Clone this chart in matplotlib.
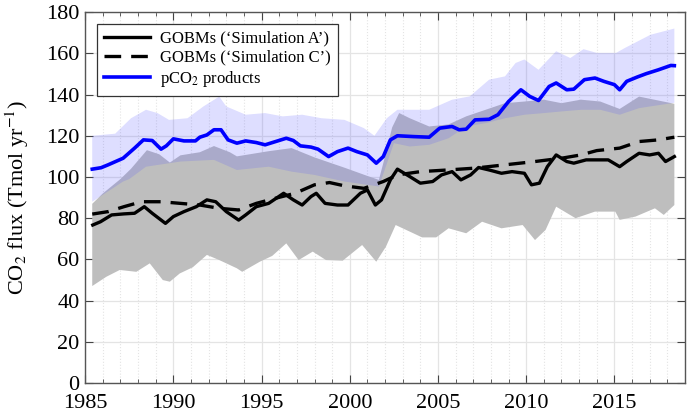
import numpy as np
import matplotlib
matplotlib.use("Agg")
import matplotlib.pyplot as plt
from matplotlib.ticker import MultipleLocator

plt.rcParams['font.family'] = ['Liberation Serif', 'DejaVu Serif']
plt.rcParams['mathtext.fontset'] = 'stix'

# pCO2 products (mean line)
pco2_years = [1985.4, 1985.9, 1986.3, 1987.15, 1987.8, 1988.3, 1988.8, 1989.3, 1989.6, 1990.0,
              1990.6, 1991.25, 1991.5, 1991.9, 1992.3, 1992.7, 1993.1, 1993.6, 1994.1, 1994.7,
              1995.2, 1995.8, 1996.4, 1996.8, 1997.2, 1997.8, 1998.2, 1998.8, 1999.3, 1999.9,
              2000.4, 2001.0, 2001.5, 2001.9, 2002.3, 2002.7, 2003.6, 2004.5, 2005.1, 2005.8,
              2006.2, 2006.6, 2007.1, 2007.9, 2008.4, 2009.0, 2009.7, 2010.2, 2010.7, 2011.3,
              2011.7, 2012.3, 2012.7, 2013.3, 2013.9, 2014.4, 2015.0, 2015.3, 2015.7, 2016.3,
              2016.8, 2017.5, 2018.2, 2018.4]
pco2_mean = [103.8, 104.5, 105.9, 109.1, 114.0, 118.0, 117.7, 113.5, 115.1, 118.5,
             117.5, 117.5, 119.3, 120.4, 122.9, 122.9, 118.0, 116.4, 117.5, 116.7,
             115.6, 117.2, 118.8, 117.7, 115.1, 114.5, 113.5, 109.9, 112.3, 114.0,
             112.3, 110.7, 106.7, 109.9, 118.0, 120.0, 119.6, 119.3, 123.7, 124.5,
             122.9, 123.2, 127.7, 128.0, 130.2, 136.6, 142.3, 139.1, 137.1, 143.9,
             145.6, 142.3, 142.6, 147.2, 148.0, 146.4, 144.8, 142.3, 146.4, 148.5,
             150.1, 152.0, 154.1, 154.0]

# pCO2 products spread
pco2_hi_years = [1985.4, 1986.7, 1987.6, 1988.45, 1989.1, 1989.75, 1990.8, 1991.7, 1992.6, 1993.0,
                 1994.1, 1995.2, 1996.2, 1997.3, 1998.4, 1999.7, 2000.8, 2001.4, 2002.1, 2002.7,
                 2004.5, 2005.8, 2006.8, 2007.9, 2008.8, 2009.4, 2009.9, 2010.7, 2011.7, 2012.5,
                 2013.25, 2014.0, 2015.1, 2015.6, 2017.05, 2018.4]
pco2_hi = [120.0, 121.0, 128.5, 132.6, 131.0, 127.7, 128.5, 134.2, 139.0, 134.2,
           130.2, 131.0, 129.4, 130.2, 128.5, 127.7, 123.7, 120.0, 128.5, 132.6,
           132.6, 137.5, 139.1, 147.2, 148.8, 155.3, 157.0, 152.0, 161.0, 157.7,
           162.0, 160.2, 160.2, 162.6, 169.0, 172.0]
pco2_lo_years = [1985.4, 1987.15, 1987.5, 1988.45, 1990.4, 1992.3, 1993.6, 1995.4, 1996.7, 1998.0,
                 1999.7, 2001.0, 2001.65, 2002.0, 2002.5, 2003.4, 2004.5, 2005.6, 2006.6, 2007.7,
                 2008.8, 2009.9, 2011.0, 2012.0, 2013.1, 2014.2, 2015.3, 2016.4, 2018.4]
pco2_lo = [88.0, 97.8, 99.0, 105.0, 107.5, 108.3, 103.4, 105.0, 102.6, 101.0,
           97.8, 96.2, 95.4, 104.0, 116.4, 114.8, 115.6, 118.8, 124.5, 126.1,
           128.5, 130.2, 131.0, 131.8, 132.6, 132.6, 130.2, 133.4, 136.0]

# GOBM spread
gobm_hi_years = [1985.4, 1986.0, 1987.0, 1987.6, 1988.5, 1989.2, 1989.8, 1990.4, 1991.5, 1992.3,
                 1993.2, 1993.6, 1995.4, 1996.7, 1998.0, 1999.7, 2001.0, 2001.65, 2002.0, 2002.4,
                 2002.8, 2003.4, 2004.5, 2005.6, 2006.6, 2007.7, 2008.8, 2009.9, 2011.0, 2012.0,
                 2013.1, 2014.2, 2015.3, 2016.4, 2018.4]
gobm_hi = [87.0, 92.0, 99.0, 104.0, 113.0, 111.0, 107.0, 110.5, 112.0, 115.0,
           112.0, 110.0, 112.5, 114.0, 109.5, 104.5, 100.5, 98.6, 110.0, 124.0,
           131.0, 128.5, 124.5, 125.5, 129.4, 132.6, 135.8, 136.6, 137.5, 135.8,
           137.5, 136.6, 133.0, 139.0, 135.5]
gobm_lo_years = [1985.4, 1986.2, 1986.96, 1987.9, 1988.66, 1989.4, 1989.8, 1990.36, 1991.1, 1991.9,
                 1992.6, 1993.6, 1993.9, 1994.9, 1995.6, 1996.4, 1997.1, 1997.9, 1998.65, 1999.6,
                 2000.7, 2001.5, 2002.05, 2002.6, 2003.4, 2004.1, 2004.9, 2005.6, 2006.6, 2007.5,
                 2008.6, 2009.8, 2010.5, 2011.1, 2011.7, 2012.8, 2013.9, 2015.05, 2015.3, 2016.2,
                 2017.3, 2017.8, 2018.4]
gobm_lo = [47.1, 51.6, 54.9, 54.0, 58.1, 50.0, 49.2, 53.2, 56.2, 62.2,
           59.7, 55.7, 54.0, 58.9, 61.7, 67.8, 59.7, 63.8, 59.7, 59.4,
           67.0, 58.9, 66.2, 76.7, 73.5, 70.7, 70.7, 75.1, 72.7, 78.3,
           75.1, 76.7, 69.4, 74.3, 85.6, 80.0, 83.2, 83.2, 79.2, 80.8,
           84.8, 81.6, 86.4]

# GOBMs 'Simulation A'
sim_a_years = [1985.43, 1985.87, 1986.5, 1987.2, 1987.8, 1988.35, 1988.8, 1989.55, 1990.0, 1990.6,
               1991.3, 1991.9, 1992.4, 1993.0, 1993.7, 1994.1, 1994.7, 1995.4, 1996.25, 1996.8,
               1997.3, 1997.8, 1998.1, 1998.6, 1999.3, 1999.9, 2000.6, 2001.0, 2001.45, 2001.8,
               2002.3, 2002.7, 2003.4, 2004.0, 2004.7, 2005.2, 2005.8, 2006.3, 2006.85, 2007.3,
               2007.9, 2008.6, 2009.2, 2009.9, 2010.3, 2010.75, 2011.2, 2011.7, 2012.3, 2012.7,
               2013.4, 2014.0, 2014.65, 2015.3, 2015.7, 2016.4, 2017.0, 2017.5, 2017.9, 2018.4]
sim_a = [76.7, 78.3, 81.6, 82.1, 82.4, 85.6, 82.4, 77.5, 80.8, 83.2,
         85.6, 88.9, 88.0, 83.2, 79.1, 81.6, 85.6, 87.2, 92.1, 88.9,
         86.4, 90.5, 92.1, 87.2, 86.4, 86.4, 92.1, 93.7, 86.4, 88.9,
         98.6, 103.8, 100.2, 97.0, 97.8, 101.0, 102.6, 98.6, 101.0, 104.6,
         103.4, 101.8, 102.6, 101.8, 96.2, 97.0, 105.0, 110.7, 107.5, 106.7,
         108.3, 108.3, 108.3, 105.0, 107.5, 111.5, 110.7, 111.5, 107.5, 109.9]

# GOBMs 'Simulation C'
sim_c_years = [1985.4, 1986.3, 1987.2, 1988.2, 1989.3, 1990.4, 1991.5, 1992.6, 1993.7, 1994.7,
               1995.8, 1996.9, 1998.0, 1998.85, 1999.7, 2000.8, 2001.9, 2002.7, 2004.0, 2005.55,
               2007.1, 2008.8, 2010.5, 2012.0, 2013.1, 2014.0, 2015.3, 2016.4, 2017.5, 2018.4]
sim_c = [82.0, 83.2, 85.6, 88.0, 88.0, 87.2, 86.4, 84.8, 84.0, 87.2,
         89.7, 92.1, 96.2, 97.3, 95.7, 94.5, 97.8, 101.0, 102.6, 103.4,
         104.3, 105.9, 107.5, 109.1, 110.7, 112.8, 114.0, 117.2, 118.0, 119.3]

fig = plt.figure(figsize=(6.87, 4.16), dpi=100)
ax = fig.add_axes([0.124, 0.079, 0.873, 0.892])

ax.fill(gobm_lo_years + gobm_hi_years[::-1], gobm_lo + gobm_hi[::-1],
        color='#bebebe', lw=0, zorder=1)
ax.fill(pco2_lo_years + pco2_hi_years[::-1], pco2_lo + pco2_hi[::-1],
        color='#5a5aff', alpha=0.2, lw=0, zorder=2)

ax.plot(sim_a_years, sim_a, color='black', lw=2.4, label='GOBMs (‘Simulation A’)', zorder=4)
ax.plot(sim_c_years, sim_c, color='black', lw=2.4, ls=(0, (5, 3)),
        label='GOBMs (‘Simulation C’)', zorder=4)
ax.plot(pco2_years, pco2_mean, color='#0000ff', lw=2.6, label='pCO$_2$ products', zorder=5)

ax.set_xlim(1985, 2019)
ax.set_ylim(0, 180)
ax.xaxis.set_major_locator(MultipleLocator(5))
ax.xaxis.set_minor_locator(MultipleLocator(1))
ax.yaxis.set_major_locator(MultipleLocator(20))
ax.grid(which='major', color='#e4e4e4', lw=0.9, zorder=0)
ax.grid(which='minor', axis='x', color='#e4e4e4', lw=0.8, ls=':', zorder=0)
ax.set_axisbelow(True)
ax.tick_params(which='both', direction='in', top=True, right=True, labelsize=16,
               color='#444444')
ax.tick_params(which='major', length=6)
ax.tick_params(which='minor', length=3)
ax.tick_params(axis='x', pad=8)
ax.tick_params(axis='y', pad=4)
for s in ax.spines.values():
    s.set_color('#555555')
    s.set_linewidth(1.0)

ax.set_ylabel('CO$_2$ flux (Tmol yr$^{-1}$)', fontsize=16)
ax.yaxis.set_label_coords(-0.09, 0.5)

leg = ax.legend(loc='upper left', fontsize=12, frameon=True, fancybox=False,
                edgecolor='#333333', framealpha=1, handlelength=2.8,
                borderaxespad=0.7, labelspacing=0.2, handletextpad=0.6,
                borderpad=0.4)
leg.get_frame().set_linewidth(0.9)

fig.savefig('out.png', dpi=100)
